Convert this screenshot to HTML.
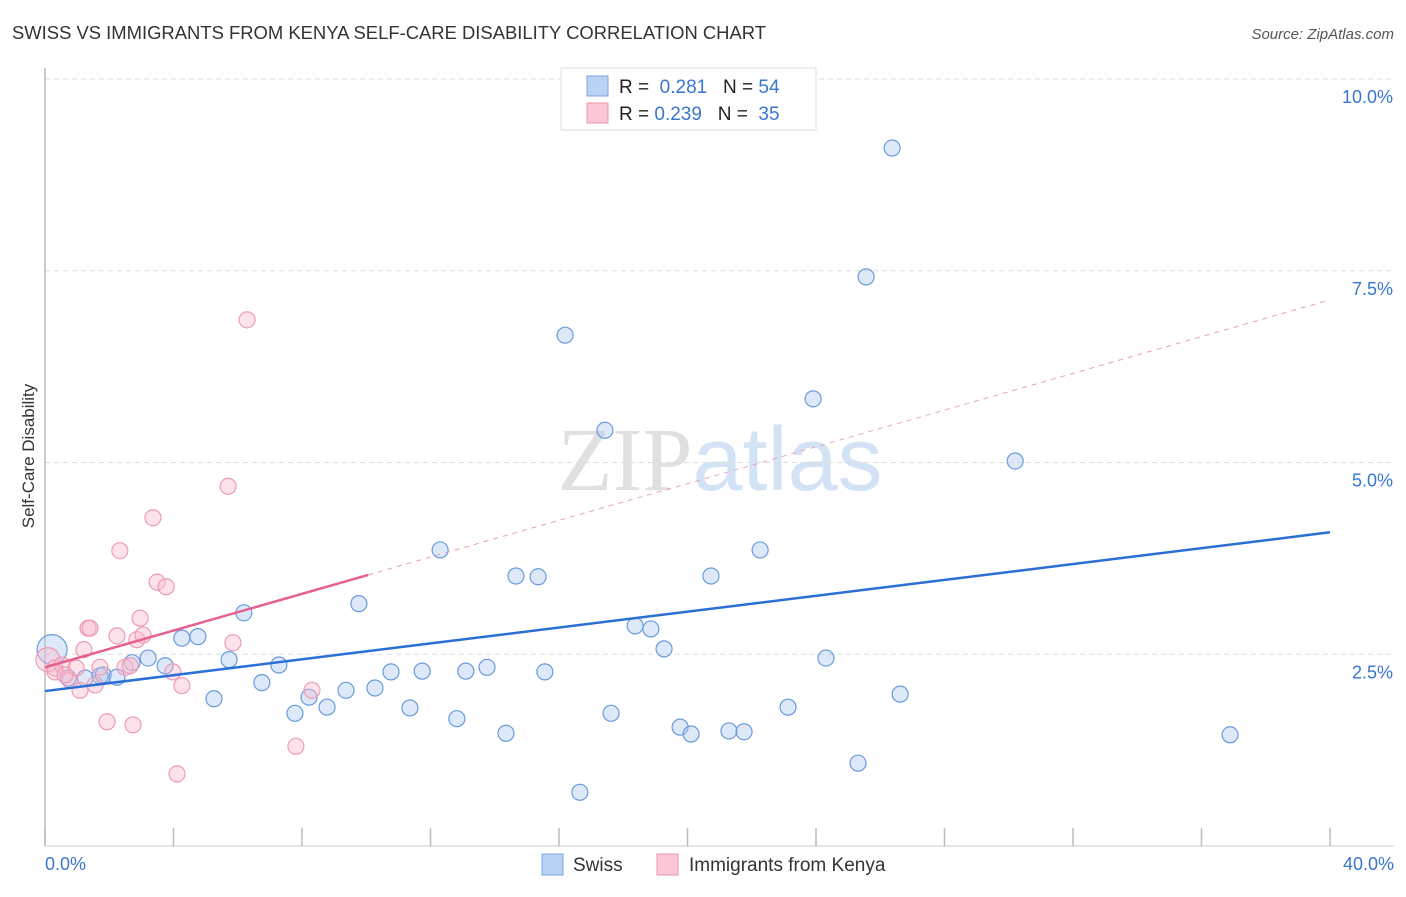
<!DOCTYPE html>
<html><head><meta charset="utf-8"><style>
body{margin:0;background:#fff;font-family:"Liberation Sans",sans-serif}
svg text{font-family:"Liberation Sans",sans-serif}
</style></head><body>
<svg id="chart" width="1406" height="892" viewBox="0 0 1406 892" xmlns="http://www.w3.org/2000/svg">
<text x="12" y="39" font-size="18.4" fill="#333" textLength="754" lengthAdjust="spacingAndGlyphs">SWISS VS IMMIGRANTS FROM KENYA SELF-CARE DISABILITY CORRELATION CHART</text>
<text x="1394" y="39" font-size="15" fill="#555" text-anchor="end" font-style="italic">Source: ZipAtlas.com</text>
<text x="720" y="490" font-size="90" text-anchor="middle"><tspan fill="#e0e0e0" font-family="Liberation Serif">ZIP</tspan><tspan fill="#d3e2f5">atlas</tspan></text>
<g id="grid"></g><g id="axes"></g><g id="marks"></g>
<text transform="translate(34,456) rotate(-90)" font-size="17" fill="#333" text-anchor="middle">Self-Care Disability</text>
<text x="45" y="870" font-size="18" fill="#3a76d0">0.0%</text>
<text x="1394" y="870" font-size="18" fill="#3a76d0" text-anchor="end">40.0%</text>
<g>
<rect x="561" y="68" width="255" height="62" fill="#fff" stroke="#ddd"/>
<rect x="587" y="76" width="21" height="20" fill="#b9d3f5" stroke="#7aa6e0"/>
<rect x="587" y="103" width="21" height="20" fill="#fbc7d6" stroke="#eb93ad"/>
<text x="619" y="93" font-size="19" fill="#222">R = <tspan fill="#3a76d0">&#160;0.281</tspan>&#160;&#160;&#160;N = <tspan fill="#3a76d0">54</tspan></text>
<text x="619" y="120" font-size="19" fill="#222">R = <tspan fill="#3a76d0">0.239</tspan>&#160;&#160;&#160;N = <tspan fill="#3a76d0">&#160;35</tspan></text>
</g>
<g>
<rect x="542" y="854" width="21" height="21" fill="#b9d3f5" stroke="#7aa6e0"/>
<text x="573" y="871" font-size="19" fill="#333">Swiss</text>
<rect x="657" y="854" width="21" height="21" fill="#fbc7d6" stroke="#eb93ad"/>
<text x="689" y="871" font-size="19" fill="#333">Immigrants from Kenya</text>
</g>
</svg>
<script>
const yTicks=[2.5,5.0,7.5,10.0];
const xTicks=[0,4,8,12,16,20,24,28,32,36,40];
const swissX=[0.22,0.72,1.25,1.71,1.81,2.24,2.71,3.21,3.74,4.26,4.76,5.26,5.73,6.19,6.75,7.28,7.78,8.22,8.78,9.37,9.77,10.27,10.77,11.36,11.74,12.30,12.82,13.10,13.76,14.35,14.66,15.35,15.56,16.19,16.65,17.43,17.62,18.37,18.86,19.27,19.77,20.11,20.73,21.29,21.76,22.26,23.13,23.91,24.31,25.31,25.56,26.37,26.62,30.20,36.89];
const swissY=[2.56,2.19,2.19,2.22,2.23,2.20,2.39,2.45,2.35,2.71,2.73,1.92,2.43,3.04,2.13,2.36,1.73,1.94,1.81,2.03,3.16,2.06,2.27,1.80,2.28,3.86,1.66,2.28,2.33,1.47,3.52,3.51,2.27,6.66,0.70,5.42,1.73,2.87,2.83,2.57,1.55,1.46,3.52,1.50,1.49,3.86,1.81,5.83,2.45,1.08,7.42,9.10,1.98,5.02,1.45];
const kenyaX=[0.09,0.31,0.53,0.78,0.97,1.09,1.21,1.34,1.40,1.56,1.71,1.93,2.24,2.33,2.49,2.65,2.74,2.86,2.96,3.05,3.36,3.49,3.77,3.98,4.11,4.26,5.70,5.85,6.29,7.81,8.31,0.31,0.62];
const kenyaY=[2.43,2.32,2.36,2.16,2.32,2.03,2.56,2.84,2.84,2.10,2.33,1.62,2.74,3.85,2.33,2.35,1.58,2.69,2.97,2.75,4.28,3.44,3.38,2.27,0.94,2.09,4.69,2.65,6.86,1.30,2.03,2.27,2.23];
const swissTrend=[2.02,4.09];
const kenyaTrend=[2.33,7.12];
const kenyaSolidEnd=10.06;
const NS="http://www.w3.org/2000/svg";
const X=v=>45+v/40*1285, Y=v=>846-v*76.7;
function mk(tag,attrs,parent){const e=document.createElementNS(NS,tag);for(const k in attrs)e.setAttribute(k,attrs[k]);document.getElementById(parent).appendChild(e);return e;}
yTicks.forEach(t=>{
 const l=mk('line',{x1:45,x2:1394,y1:Y(t),y2:Y(t),stroke:'#ddd','stroke-dasharray':'5,4'},'grid');
 
 
 const tx=mk('text',{x:1393,y:Y(t)+24,'font-size':18,fill:'#3a76d0','text-anchor':'end'},'grid');
 tx.textContent=t.toFixed(1)+'%';
 
 
});
const ya=mk('line',{x1:45,x2:45,y1:68,y2:846,stroke:'#bbb','stroke-width':1.5},'axes');


const xa=mk('line',{x1:45,x2:1394,y1:846,y2:846,stroke:'#ccc'},'axes');


xTicks.forEach(t=>{
 const l=mk('line',{x1:X(t),x2:X(t),y1:828,y2:846,stroke:'#bbb','stroke-width':1.5},'axes');
 
 
});
swissX.forEach((x,i)=>{
 const c=mk('circle',{cx:X(x),cy:Y(swissY[i]),r:i==0?15:8,fill:'rgba(170,200,240,0.4)',stroke:'#6a9ade','stroke-width':1.2},'marks');
 
 
});
kenyaX.forEach((x,i)=>{
 const c=mk('circle',{cx:X(x),cy:Y(kenyaY[i]),r:i==0?12:8,fill:'rgba(248,185,205,0.4)',stroke:'#ee9ab3','stroke-width':1.2},'marks');
 
 
});
const kAt=v=>kenyaTrend[0]+(kenyaTrend[1]-kenyaTrend[0])*v/40;
const kd=mk('line',{x1:X(kenyaSolidEnd),y1:Y(kAt(kenyaSolidEnd)),x2:X(40),y2:Y(kenyaTrend[1]),stroke:'#e8a0b8','stroke-dasharray':'5,5'},'marks');


const ks=mk('line',{x1:X(0),y1:Y(kenyaTrend[0]),x2:X(kenyaSolidEnd),y2:Y(kAt(kenyaSolidEnd)),stroke:'#e8608e','stroke-width':2.5},'marks');


const st=mk('line',{x1:X(0),y1:Y(swissTrend[0]),x2:X(40),y2:Y(swissTrend[1]),stroke:'#2a6fd6','stroke-width':2.5},'marks');


</script>
</body></html>
